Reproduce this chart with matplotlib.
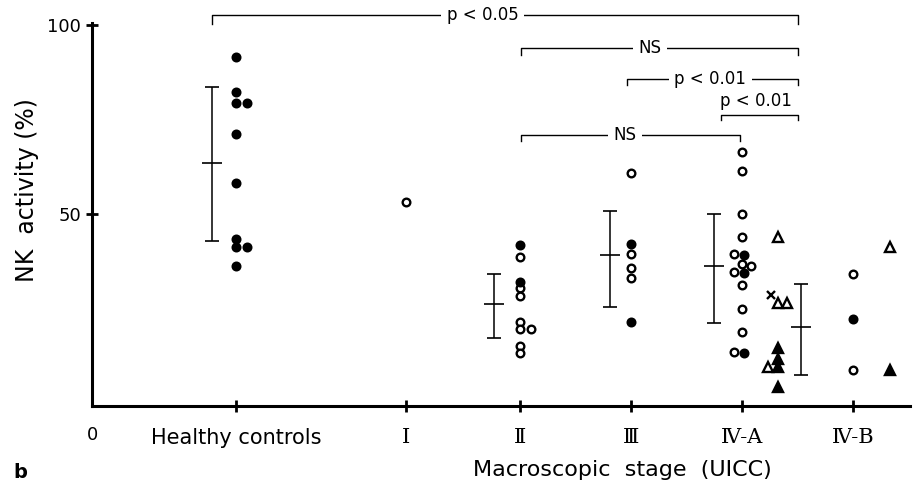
import matplotlib.pyplot as plt

# group ticks on the x axis
groups = ['Healthy controls', 'Ⅰ', 'Ⅱ', 'Ⅲ', 'Ⅳ-A', 'Ⅳ-B']
group_x = [1.3, 2.83, 3.86, 4.86, 5.86, 6.86]

# healthy controls (filled circles)
hc_main = [91.6, 82.4, 79.4, 71.3, 58.3, 43.3, 41.3, 36.2]
hc_side = [79.4, 41.3]

# stage I
st1_open = [53.2]

# stage II
st2_open = [38.5, 30.4, 28.3, 21.5, 19.7, 15.2, 13.3]
st2_open_side = [19.5]
st2_filled = [41.9, 32.1]

# stage III
st3_open = [60.9, 39.4, 35.6, 33.0]
st3_filled = [42.2, 21.5]

# stage IV-A, circles
st4a_open = [66.5, 61.4, 50.0, 44.0, 36.7, 31.2, 25.0, 18.9]
st4a_open_left = [39.4, 34.6, 13.4]
st4a_open_right = [36.2]
st4a_filled = [39.1, 34.3, 13.3]

# stage IV-A, triangles
st4a_tri_open = [44.0, 26.5]
st4a_tri_open_right = [26.5]
st4a_tri_open_left = [9.4]
st4a_tri_filled = [14.5, 11.6, 9.4, 4.3]
st4a_cross = [28.6]

# stage IV-B
st4b_open = [34.1, 8.7]
st4b_filled = [22.2]
st4b_tri_open = [41.3]
st4b_tri_filled = [8.7]

# mean, upper, lower of the error bars
hc_bar = [63.4, 83.5, 42.9]
st2_bar = [26.1, 34.1, 17.3]
st3_bar = [39.2, 50.9, 25.3]
st4a_bar = [36.2, 50.0, 21.3]
st4a_tri_bar = [20.2, 31.5, 7.4]

fig = plt.figure(figsize=(9.15, 4.86), dpi=100)
ax = fig.add_axes([92 / 915, 80 / 486, 818 / 915, 401 / 486])
ax.set_xlim(0, 7.37)
ax.set_ylim(-0.79, 105.3)

xhc, x1, x2, x3, x4a, x4b = group_x


def dots(x, vals, filled=True, marker='o', ms=5.5):
    ax.plot([x] * len(vals), vals, linestyle='none', marker=marker, ms=ms,
            mfc='black' if filled else 'white', mec='black', mew=1.7,
            zorder=3)


def bar(x, stats):
    m, hi, lo = stats
    ax.errorbar([x], [m], yerr=[[m - lo], [hi - m]], fmt='_', ms=15,
                mew=1.2, color='black', elinewidth=1.1, capsize=5,
                capthick=1.2, zorder=2)


dots(xhc, hc_main)
dots(xhc + 0.1, hc_side)
bar(xhc - 0.22, hc_bar)

dots(x1, st1_open, filled=False)

dots(x2, st2_open, filled=False)
dots(x2 + 0.095, st2_open_side, filled=False)
dots(x2, st2_filled)
bar(x2 - 0.24, st2_bar)

dots(x3, st3_open, filled=False)
dots(x3, st3_filled)
bar(x3 - 0.19, st3_bar)

dots(x4a, st4a_open, filled=False)
dots(x4a - 0.08, st4a_open_left, filled=False)
dots(x4a + 0.08, st4a_open_right, filled=False)
dots(x4a + 0.01, st4a_filled)
bar(x4a - 0.26, st4a_bar)

dots(x4a + 0.32, st4a_tri_open, filled=False, marker='^', ms=7.5)
dots(x4a + 0.40, st4a_tri_open_right, filled=False, marker='^', ms=7.5)
dots(x4a + 0.23, st4a_tri_open_left, filled=False, marker='^', ms=7.5)
dots(x4a + 0.32, st4a_tri_filled, marker='^', ms=7.5)
dots(x4a + 0.26, st4a_cross, marker='x', ms=5.5)
bar(x4a + 0.53, st4a_tri_bar)

dots(x4b, st4b_open, filled=False)
dots(x4b, st4b_filled)
dots(x4b + 0.33, st4b_tri_open, filled=False, marker='^', ms=7.5)
dots(x4b + 0.33, st4b_tri_filled, marker='^', ms=7.5)

# significance brackets: left, right, height, drop, label, label x
brackets = [
    (1.08, 6.36, 102.6, 2.3, 'p < 0.05', 3.52),
    (3.865, 6.36, 93.9, 1.8, 'NS', 5.03),
    (4.82, 6.36, 85.7, 1.6, 'p < 0.01', 5.57),
    (5.67, 6.36, 76.2, 1.4, None, None),
    (3.865, 5.84, 70.9, 1.7, 'NS', 4.80),
]
for left, right, h, d, lab, lx in brackets:
    ax.plot([left, left, right, right], [h - d, h, h, h - d],
            color='black', lw=1.0, zorder=1)
    if lab:
        ax.text(lx, h, lab, ha='center', va='center', fontsize=12,
                bbox=dict(facecolor='white', edgecolor='none', pad=4))
ax.text(5.98, 80.0, 'p < 0.01', ha='center', va='center', fontsize=12)

for s in ['top', 'right']:
    ax.spines[s].set_visible(False)
for s in ['left', 'bottom']:
    ax.spines[s].set_linewidth(2.2)
ax.spines['left'].set_bounds(-0.79, 100.5)

ax.set_yticks([50, 100])
ax.set_yticklabels(['50', '100'])
ax.set_xticks(group_x)
ax.set_xticklabels(groups)
for lab in ax.get_xticklabels()[1:]:
    lab.set_family(['DejaVu Serif', 'DejaVu Sans'])
ax.tick_params(axis='y', direction='inout', length=8, width=2, labelsize=13,
               pad=4)
ax.tick_params(axis='x', direction='inout', length=9, width=2, labelsize=15,
               pad=11)

fig.text(92 / 915, 1 - 435 / 486, '0', ha='center', va='center', fontsize=13)
fig.text(27 / 915, 1 - 190 / 486, 'NK  activity (%)', rotation=90,
         ha='center', va='center', fontsize=17)
fig.text(622 / 915, 1 - 470 / 486, 'Macroscopic  stage  (UICC)',
         ha='center', va='center', fontsize=16)
fig.text(13 / 915, 1 - 472 / 486, 'b', ha='left', va='center', fontsize=14,
         fontweight='bold')

fig.savefig('out.png', dpi=100)
